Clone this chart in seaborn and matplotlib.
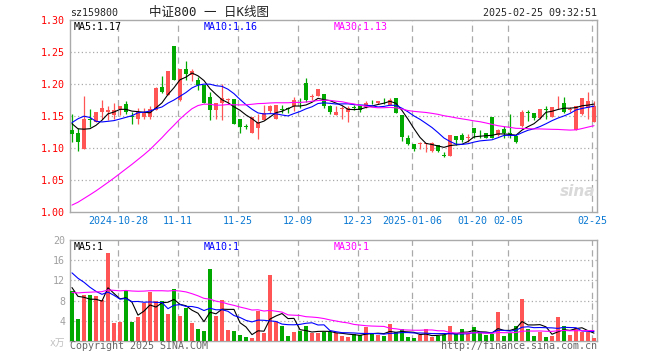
"""Daily K-line chart for sz159800 (CSI 800 ETF), Sina finance style."""

import matplotlib
matplotlib.use("Agg")

import numpy as np
import pandas as pd
import seaborn as sns
from matplotlib import pyplot as plt

# trading calendar shown on the chart
HOLIDAYS = ["2025-01-01", "2025-01-28", "2025-01-29", "2025-01-30", "2025-01-31",
            "2025-02-03", "2025-02-04"]
TICK_DATES = ["2024-10-28", "2024-11-11", "2024-11-25", "2024-12-09", "2024-12-23",
              "2025-01-06", "2025-01-20", "2025-02-05", "2025-02-25"]
TICK_LABELS = ["2024-10-28", "11-11", "11-25", "12-09", "12-23",
               "2025-01-06", "01-20", "02-05", "02-25"]

# closes / volumes before the first visible day (only feed the moving averages)
PRIOR_CLOSE = [0.975, 0.970, 0.968, 0.975, 0.965, 0.960, 0.955, 0.950, 0.940, 0.935,
               0.930, 0.928, 0.920, 0.915, 0.910, 0.920, 0.925, 0.930, 0.965, 0.990,
               1.050, 1.105, 1.164, 1.216, 1.172, 1.150, 1.148, 1.140, 1.130]
PRIOR_VOLUME = [7.0, 6.5, 7.5, 7.0, 6.8, 7.2, 6.0, 6.5, 7.8, 7.0,
                6.2, 6.6, 7.4, 8.2, 7.8, 7.0, 7.5, 7.5, 12.0, 14.0,
                15.0, 17.0, 19.0, 17.0, 14.0, 13.0, 10.0, 11.0, 9.0]

OPEN = [1.128, 1.123, 1.099, 1.146, 1.141, 1.156, 1.157, 1.152, 1.161, 1.169,
        1.150, 1.145, 1.148, 1.148, 1.160, 1.195, 1.183, 1.259, 1.175, 1.223,
        1.214, 1.207, 1.199, 1.179, 1.160, 1.170, 1.175, 1.176, 1.145, 1.134,
        1.123, 1.131, 1.144, 1.158, 1.145, 1.161, 1.162, 1.165, 1.166, 1.202,
        1.180, 1.182, 1.184, 1.165, 1.152, 1.161, 1.156, 1.164, 1.165, 1.164,
        1.174, 1.170, 1.174, 1.167, 1.178, 1.152, 1.116, 1.106, 1.106, 1.106,
        1.095, 1.104, 1.089, 1.088, 1.119, 1.120, 1.116, 1.131, 1.127, 1.124,
        1.148, 1.120, 1.130, 1.123, 1.119, 1.135, 1.156, 1.154, 1.147, 1.161,
        1.149, 1.168, 1.170, 1.160, 1.128, 1.153, 1.162, 1.141]
HIGH = [1.153, 1.131, 1.181, 1.161, 1.156, 1.175, 1.165, 1.170, 1.165, 1.174,
        1.156, 1.162, 1.162, 1.165, 1.195, 1.212, 1.221, 1.260, 1.224, 1.236,
        1.224, 1.211, 1.199, 1.188, 1.170, 1.200, 1.178, 1.176, 1.145, 1.138,
        1.149, 1.153, 1.167, 1.167, 1.167, 1.167, 1.164, 1.179, 1.178, 1.210,
        1.185, 1.192, 1.184, 1.167, 1.165, 1.165, 1.165, 1.167, 1.165, 1.174,
        1.175, 1.174, 1.178, 1.178, 1.178, 1.152, 1.120, 1.107, 1.110, 1.108,
        1.109, 1.105, 1.093, 1.121, 1.119, 1.124, 1.122, 1.131, 1.128, 1.124,
        1.148, 1.130, 1.134, 1.153, 1.119, 1.159, 1.159, 1.154, 1.161, 1.165,
        1.164, 1.181, 1.179, 1.164, 1.165, 1.178, 1.187, 1.173]
LOW = [1.110, 1.096, 1.098, 1.133, 1.141, 1.146, 1.144, 1.146, 1.152, 1.153,
       1.138, 1.138, 1.146, 1.146, 1.159, 1.186, 1.183, 1.207, 1.173, 1.207,
       1.205, 1.191, 1.170, 1.144, 1.146, 1.144, 1.171, 1.138, 1.124, 1.130,
       1.123, 1.114, 1.144, 1.154, 1.145, 1.155, 1.155, 1.158, 1.163, 1.172,
       1.175, 1.181, 1.162, 1.153, 1.151, 1.146, 1.141, 1.159, 1.156, 1.162,
       1.168, 1.168, 1.168, 1.167, 1.154, 1.111, 1.104, 1.096, 1.099, 1.094,
       1.094, 1.094, 1.086, 1.088, 1.105, 1.110, 1.110, 1.115, 1.115, 1.115,
       1.115, 1.118, 1.115, 1.115, 1.108, 1.133, 1.142, 1.143, 1.146, 1.146,
       1.149, 1.161, 1.155, 1.156, 1.128, 1.152, 1.146, 1.141]
CLOSE = [1.122, 1.110, 1.145, 1.144, 1.156, 1.162, 1.160, 1.159, 1.165, 1.156,
         1.148, 1.156, 1.154, 1.161, 1.194, 1.188, 1.221, 1.207, 1.223, 1.215,
         1.220, 1.199, 1.170, 1.160, 1.170, 1.178, 1.176, 1.138, 1.133, 1.133,
         1.149, 1.141, 1.154, 1.165, 1.167, 1.160, 1.161, 1.175, 1.165, 1.175,
         1.181, 1.192, 1.165, 1.157, 1.156, 1.162, 1.162, 1.163, 1.160, 1.170,
         1.173, 1.174, 1.173, 1.175, 1.154, 1.117, 1.106, 1.099, 1.107, 1.107,
         1.108, 1.095, 1.088, 1.121, 1.112, 1.113, 1.117, 1.124, 1.126, 1.116,
         1.116, 1.128, 1.124, 1.122, 1.110, 1.156, 1.155, 1.147, 1.161, 1.160,
         1.164, 1.169, 1.157, 1.161, 1.165, 1.178, 1.174, 1.165]
# volume in units of 10k lots
VOLUME = [9.9, 4.3, 9.1, 9.1, 8.9, 8.1, 17.5, 3.5, 3.7, 10.0,
          3.7, 4.7, 7.5, 9.8, 7.9, 7.9, 5.3, 10.3, 4.9, 6.5,
          3.5, 2.3, 1.9, 14.3, 4.9, 8.1, 2.1, 1.9, 1.1, 0.7,
          0.5, 5.9, 1.5, 13.1, 3.8, 2.9, 0.9, 1.7, 1.9, 2.9,
          1.5, 1.5, 1.8, 1.8, 1.5, 1.0, 0.7, 1.3, 1.1, 2.7,
          1.5, 1.1, 0.9, 3.3, 1.8, 2.3, 0.7, 0.5, 1.1, 2.3,
          0.7, 1.0, 1.1, 2.9, 1.3, 2.3, 1.3, 2.7, 1.5, 1.1,
          1.3, 5.7, 0.9, 1.5, 2.9, 8.3, 2.3, 0.9, 1.8, 0.7,
          1.0, 4.7, 3.0, 1.1, 2.5, 1.8, 1.8, 0.6]

UP_COLOR = "#ff5555"
DOWN_COLOR = "#00a800"
MA_COLORS = {5: "#000000", 10: "#0000ff", 30: "#ff00ff"}
GRID_COLOR = "#aaaaaa"

W, H = 660, 360


def fig_xy(x, y):
    return x / W, 1 - y / H


def moving_averages(prior, values):
    full = pd.Series(list(prior) + list(values))
    n = len(values)
    return {w: full.rolling(w).mean().to_numpy()[-n:] for w in MA_COLORS}


def build_frame() -> pd.DataFrame:
    dates = pd.bdate_range("2024-10-16", "2025-02-25")
    dates = dates[~dates.isin(pd.to_datetime(HOLIDAYS))]
    df = pd.DataFrame({"date": dates, "open": OPEN, "high": HIGH, "low": LOW,
                       "close": CLOSE, "volume": VOLUME})
    df["idx"] = np.arange(len(df))
    df["side"] = np.where(df["close"] >= df["open"], "up", "down")
    return df


def style_axis(ax, tick_pos):
    for s in ax.spines.values():
        s.set_color(GRID_COLOR)
        s.set_linewidth(1)
    ax.tick_params(length=0)
    for p in tick_pos:
        ax.axvline(p, color=GRID_COLOR, lw=0.9, ls=(0, (5, 3.5)), zorder=0)


def main() -> None:
    sns.set_style("white")
    plt.rcParams["font.family"] = ["DejaVu Sans Mono", "Noto Sans CJK SC"]
    df = build_frame()
    colors = np.where(df["side"] == "up", UP_COLOR, DOWN_COLOR)

    fig = plt.figure(figsize=(W / 100, H / 100), dpi=100)
    ax_k = fig.add_axes([70 / W, 1 - 212 / H, 527 / W, 192 / H])
    ax_v = fig.add_axes([70 / W, 1 - 341 / H, 527 / W, 101 / H])

    tick_idx = [int(df.index[df["date"] == pd.Timestamp(d)][0]) for d in TICK_DATES]
    tick_pos = [i - 0.3 for i in tick_idx]
    xlim = (-0.33, len(df) - 0.5)

    # --- candles
    body_bottom = np.minimum(df["open"], df["close"])
    body_height = np.maximum((df["close"] - df["open"]).abs(), 0.0012)
    ax_k.vlines(df["idx"], df["low"], df["high"], colors=colors, lw=0.9, zorder=2)
    ax_k.bar(df["idx"], body_height, bottom=body_bottom, width=0.8, color=colors,
             linewidth=0, zorder=3)
    price_ma = moving_averages(PRIOR_CLOSE, CLOSE)
    for w, c in MA_COLORS.items():
        sns.lineplot(x=df["idx"], y=price_ma[w], color=c, lw=0.8, ax=ax_k, zorder=4)

    ax_k.set_xlim(*xlim)
    ax_k.set_ylim(1.0, 1.30)
    yt = np.round(np.arange(1.0, 1.301, 0.05), 2)
    ax_k.set_yticks(yt, [f"{v:.2f}" for v in yt])
    for v in yt[1:-1]:
        ax_k.axhline(v, color=GRID_COLOR, lw=0.9, ls=(0, (1, 2)), zorder=0)
    ax_k.set_xticks(tick_pos, TICK_LABELS)
    ax_k.tick_params(axis="y", colors="red", labelsize=7.2, pad=3.5)
    ax_k.tick_params(axis="x", colors="#0a78d2", labelsize=7.2, pad=3)
    ax_k.set_xlabel("")
    ax_k.set_ylabel("")
    style_axis(ax_k, tick_pos)

    # --- volume
    sns.barplot(x=df["idx"], y=df["volume"], hue=df["side"],
                palette={"up": UP_COLOR, "down": DOWN_COLOR}, dodge=False,
                legend=False, width=0.8, linewidth=0, saturation=1, ax=ax_v, zorder=3)
    vol_ma = moving_averages(PRIOR_VOLUME, VOLUME)
    for w, c in MA_COLORS.items():
        sns.lineplot(x=df["idx"], y=vol_ma[w], color=c, lw=0.8, ax=ax_v, zorder=4)
    ax_v.set_xlim(*xlim)
    ax_v.set_ylim(0, 20)
    ax_v.set_yticks([4, 8, 12, 16, 20], ["4", "8", "12", "16", "20"])
    for v in [4, 8, 12, 16]:
        ax_v.axhline(v, color=GRID_COLOR, lw=0.9, ls=(0, (1, 2)), zorder=0)
    ax_v.set_xticks(tick_pos, [""] * len(tick_pos))
    ax_v.tick_params(axis="y", colors="#a0a0a0", labelsize=7.2, pad=3.5)
    ax_v.set_xlabel("")
    ax_v.set_ylabel("")
    style_axis(ax_v, tick_pos)

    # --- texts
    fig.text(*fig_xy(70, 13), "sz159800", ha="left", va="center", fontsize=7.2)
    fig.text(*fig_xy(209, 12), "中证800 一 日K线图", ha="center", va="center",
             fontsize=9, color="#222222")
    fig.text(*fig_xy(597, 13), "2025-02-25 09:32:51", ha="right", va="center",
             fontsize=7.2)
    for x, label, c in [(74, "MA5:1.17", MA_COLORS[5]), (204, "MA10:1.16", MA_COLORS[10]),
                        (334, "MA30:1.13", MA_COLORS[30])]:
        fig.text(*fig_xy(x, 27), label, ha="left", va="center", fontsize=7.2, color=c)
    for x, label, c in [(74, "MA5:1", MA_COLORS[5]), (204, "MA10:1", MA_COLORS[10]),
                        (334, "MA30:1", MA_COLORS[30])]:
        fig.text(*fig_xy(x, 247), label, ha="left", va="center", fontsize=7.2, color=c)
    fig.text(*fig_xy(50, 343), "x万", ha="left", va="center", fontsize=7,
             color="#c0c0c0")
    fig.text(*fig_xy(70, 346), "Copyright 2025 SINA.COM", ha="left", va="center",
             fontsize=7.2, color="#666666")
    fig.text(*fig_xy(597, 346), "http://finance.sina.com.cn", ha="right",
             va="center", fontsize=7.2, color="#666666")
    fig.text(*fig_xy(578, 192), "sina", ha="center", va="center", fontsize=11,
             fontweight="bold", style="italic", color="#d9d9d9",
             family="DejaVu Sans")

    fig.savefig("out.png", dpi=100)
    plt.close(fig)


if __name__ == "__main__":
    main()
